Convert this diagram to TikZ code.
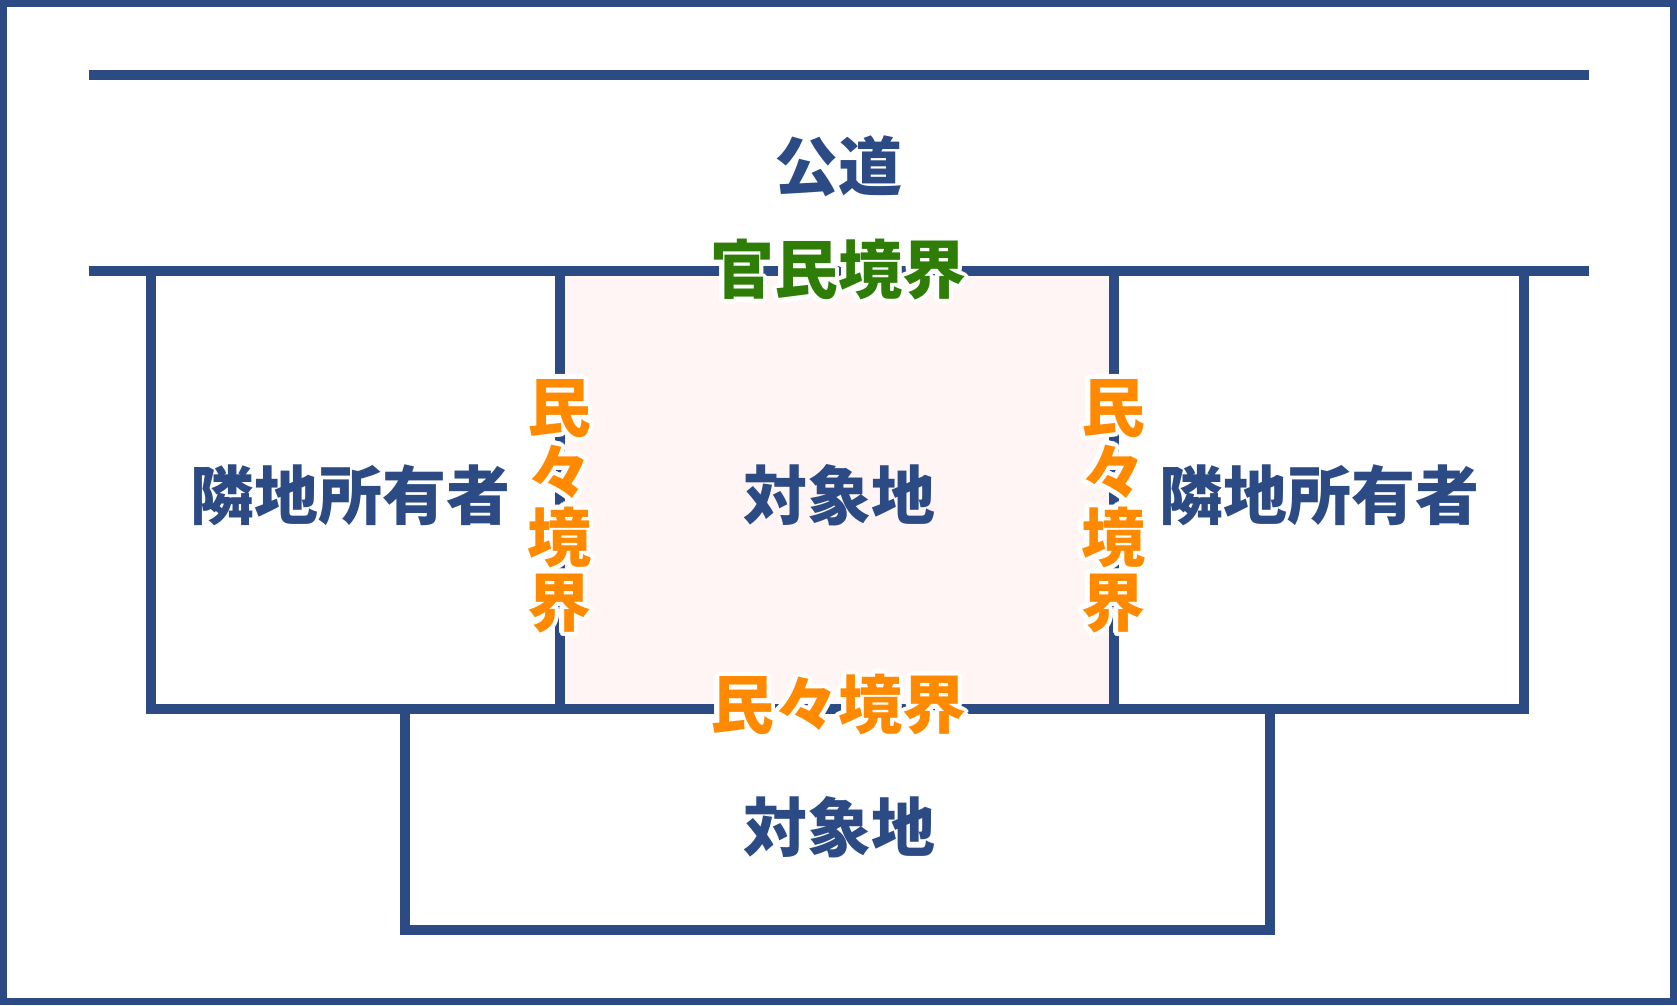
\documentclass[tikz,border=0pt]{standalone}
\usepackage{fontspec}
\newfontfamily\jp{Noto Sans CJK JP}
\usetikzlibrary{calc}
\definecolor{navy}{HTML}{2C4B85}
\definecolor{kgreen}{HTML}{2E7D07}
\definecolor{korange}{HTML}{FF8A00}
\definecolor{pinkbg}{HTML}{FFF5F4}
\newcommand\halolabel[5]{% name, position, colour, text, extra options
  \foreach \ang in {0,20,...,340}{
    \node[lbl,text=white,#5] at ($(#2)+(\ang:4.5)$) {#4};
  }
  \node[lbl,text=#3,#5] (#1) at (#2) {#4};
}
\begin{document}
\begin{tikzpicture}[x=1pt,y=-1pt,
  wall/.style={draw=navy,line width=10pt,line join=miter},
  lbl/.style={font=\jp\bfseries\fontsize{64}{65}\selectfont,inner sep=0pt,align=center},
  navylbl/.style={lbl,text=navy}]
\useasboundingbox (0,0) rectangle (1677,1005);
\fill[white] (0,0) rectangle (1677,1005);
% pink target lot
\fill[pinkbg] (560,271) rectangle (1114,709);
% outer frame
\draw[draw=navy,line width=7pt] (3.5,3.5) rectangle (1673.5,1001.5);
% road lines
\draw[wall] (89,75) -- (1589,75);
% neighbour boxes
\draw[wall] (151,271) -- (151,709) -- (1524,709) -- (1524,271);
\draw[wall] (560,271) -- (560,709);
\draw[wall] (1114,271) -- (1114,709);
% lower target lot
\draw[wall] (405,709) -- (405,930) -- (1270,930) -- (1270,709);
\draw[wall] (89,271) -- (1589,271);
% labels
\node[navylbl] (road) at (838,166) {公道};
\node[navylbl] (nbl) at (350,495) {隣地所有者};
\node[navylbl] (nbr) at (1319,495) {隣地所有者};
\node[navylbl] (tgt) at (839,495) {対象地};
\node[navylbl] (tgt2) at (839,827) {対象地};
\halolabel{kanmin}{838,270}{kgreen}{官民境界}{}
\halolabel{minl}{559,506}{korange}{民\\々\\境\\界}{}
\halolabel{minr}{1113,506}{korange}{民\\々\\境\\界}{}
\halolabel{minb}{838,705}{korange}{民々境界}{}
\end{tikzpicture}
\end{document}
